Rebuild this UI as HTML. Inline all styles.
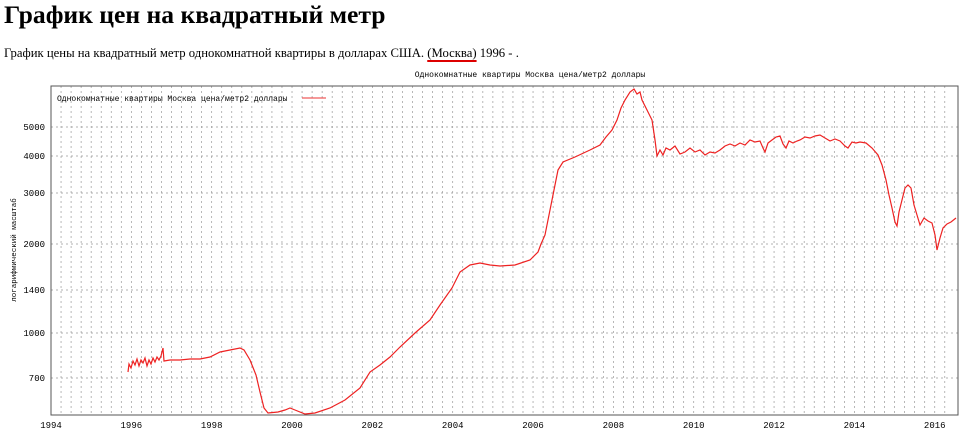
<!DOCTYPE html>
<html><head><meta charset="utf-8"><style>
body{margin:0;background:#fff;width:960px;height:445px;overflow:hidden;position:relative;font-family:"Liberation Serif",serif}
h1{position:absolute;left:4px;top:0px;margin:0;font-size:25.6px;font-weight:bold;color:#000}
.sub{position:absolute;left:4px;top:46px;font-size:12.7px;color:#000}
.sub u{text-decoration-color:#d00;text-decoration-thickness:2px;text-underline-offset:3px}
svg{position:absolute;left:0;top:0}
</style></head><body>
<h1>График цен на квадратный метр</h1>
<div class="sub">График цены на квадратный метр однокомнатной квартиры в долларах США. <u>(Москва)</u> 1996 - .</div>
<svg width="960" height="445" font-family="Liberation Mono, DejaVu Sans Mono, monospace" font-size="8.5">
<text x="530" y="77" text-anchor="middle" font-size="8">Однокомнатные квартиры Москва цена/метр2 доллары</text>
<g stroke="#999" stroke-width="0.7" stroke-dasharray="2,3" id="g"></g>
<rect x="51" y="86" width="907" height="329" fill="none" stroke="#555" stroke-width="1"/>
<g font-size="9" text-anchor="end">
<text x="45" y="130">5000</text><text x="45" y="159">4000</text><text x="45" y="196">3000</text><text x="45" y="247">2000</text><text x="45" y="293">1400</text><text x="45" y="336">1000</text><text x="45" y="381">700</text>
</g>
<text transform="translate(16,250) rotate(-90)" text-anchor="middle" font-size="7.5">логарифмический масштаб</text>
<g font-size="9" text-anchor="middle" id="xl"></g>
<text x="57" y="101" font-size="8">Однокомнатные квартиры Москва цена/метр2 доллары</text>
<line x1="302" y1="98" x2="326" y2="98" stroke="#e33" stroke-width="1"/>
<polyline fill="none" stroke="#e22" stroke-width="1.2" points="128,372 129,364 131,368 133,361 135,365 137,359 139,366 141,360 143,363 145,358 147,366 149,360 151,364 153,358 155,362 157,357 159,360 161,356 163,348 164,361 170,360 180,360 190,359 200,359 210,357 220,352 230,350 240,348 244,350 250,360 256,375 260,392 264,408 268,413 278,412 285,410 290,408 295,410 305,414 315,413 330,408 345,400 360,388 370,372 380,365 390,357 400,347 415,333 430,320 440,305 452,288 460,272 470,265 480,263 490,265 500,266 515,265 530,260 538,252 541,244 545,235 552,200 558,170 563,162 575,157 590,150 600,145 606,137 612,130 617,120 621,108 625,100 630,92 634,89 637,94 640,92 642,100 647,110 652,120 655,140 657,156 660,150 663,155 666,148 670,150 675,146 680,154 685,152 690,148 695,152 700,150 705,155 710,152 715,153 720,150 725,146 730,144 735,146 740,143 745,145 750,140 755,142 760,141 763,148 765,152 768,143 772,140 776,137 780,136 783,144 786,148 789,141 793,143 797,141 800,140 805,137 810,138 815,136 820,135 825,138 830,141 835,139 840,141 845,146 848,148 852,142 856,143 860,142 866,143 872,148 878,155 882,165 886,180 889,195 892,208 895,222 897,226 899,212 902,200 905,188 908,185 911,188 914,205 917,215 920,225 924,218 928,221 932,223 935,235 937,250 940,238 943,228 947,224 951,222 956,218"/>
</svg>
<script>
var g=document.getElementById('g'),xl=document.getElementById('xl'),s='';
for(var i=1;i<90;i++){var x=51+i*40.17/4;if(x<958)s+='<line x1="'+x+'" y1="86" x2="'+x+'" y2="415"/>';}
[127,156,193,244,290,333,378].forEach(function(y){s+='<line x1="51" y1="'+y+'" x2="958" y2="'+y+'"/>';});
g.innerHTML=s;var t='';
for(var y=1994;y<=2016;y+=2){var x=51+(y-1994)*40.17;t+='<text x="'+x+'" y="428">'+y+'</text>';}
xl.innerHTML=t;
</script>
</body></html>
